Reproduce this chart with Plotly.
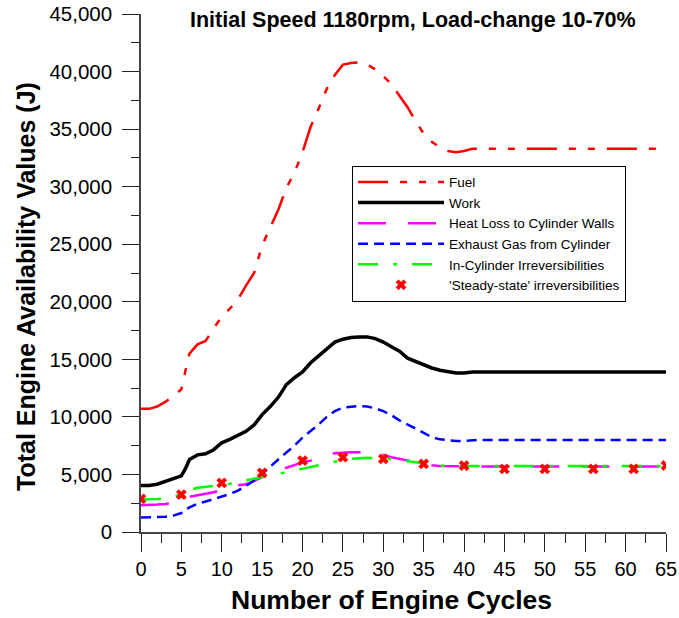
import plotly.graph_objects as go

# ---- data ----
fuel_x = [0, 1, 2, 3, 4, 5, 5.5, 6, 7, 8, 9, 10, 11, 12, 13, 14, 15, 16, 17, 18, 19, 20, 21, 22, 23, 24, 25,
          26, 27, 28, 29, 30, 31, 32, 33, 34, 35, 36, 37, 38, 39, 40, 41, 42, 50, 65]
fuel_y = [10700, 10700, 10900, 11300, 11800, 12400, 14000, 15500, 16300, 16600, 17700, 18700, 19400, 20200,
          21400, 22500, 24900, 26500, 28000, 29900, 31200, 33000, 35200, 36800, 38500, 39700, 40600, 40750,
          40800, 40600, 40200, 39600, 38900, 37900, 36900, 35700, 34600, 33900, 33400, 33100, 33000, 33100,
          33300, 33300, 33300, 33300]

work_x = [0, 1, 2, 3, 4, 5, 5.5, 6, 7, 8, 9, 10, 11, 12, 13, 14, 15, 16, 17, 18, 19, 20, 21, 22, 23, 24, 25,
          26, 27, 28, 29, 30, 31, 32, 33, 34, 35, 36, 37, 38, 39, 40, 41, 42, 50, 65]
work_y = [4050, 4050, 4150, 4400, 4650, 4880, 5500, 6300, 6700, 6800, 7150, 7750, 8050, 8400, 8750, 9300,
          10200, 10900, 11700, 12800, 13400, 13900, 14700, 15300, 15900, 16500, 16750, 16900, 16950, 16950,
          16800, 16500, 16100, 15700, 15100, 14800, 14500, 14250, 14050, 13900, 13820, 13820, 13900, 13900,
          13900, 13900]

heat_x = [0, 1, 2, 3, 4, 5, 6, 7, 8, 9, 10, 11, 12, 13, 14, 15, 16, 17, 18, 19, 20, 21, 22, 23, 24, 25, 26,
          27, 28, 29, 30, 31, 32, 33, 34, 35, 36, 37, 38, 39, 40, 50, 65]
heat_y = [2330, 2340, 2380, 2430, 2520, 2750, 3050, 3200, 3330, 3450, 3650, 3950, 4050, 4150, 4450, 4800,
          5100, 5350, 5600, 5850, 6050, 6200, 6450, 6650, 6850, 6900, 6920, 6920, 6900, 6800, 6700, 6500,
          6350, 6200, 6050, 5900, 5800, 5730, 5700, 5700, 5700, 5700, 5700]

exh_x = [0, 1, 2, 3, 4, 5, 6, 7, 8, 9, 10, 11, 12, 13, 14, 15, 16, 17, 18, 19, 20, 21, 22, 23, 24, 25, 26,
         27, 28, 29, 30, 31, 32, 33, 34, 35, 36, 37, 38, 39, 40, 41, 42, 50, 65]
exh_y = [1250, 1260, 1280, 1330, 1420, 1650, 2150, 2450, 2650, 2850, 3050, 3300, 3600, 4000, 4450, 5050,
         5700, 6300, 6900, 7500, 8200, 8750, 9350, 10000, 10500, 10800, 10900, 10950, 10900, 10750, 10500,
         10150, 9700, 9350, 9000, 8600, 8250, 8050, 7950, 7900, 7920, 7980, 8000, 8000, 8000]

incyl_x = [0, 1, 2, 3, 4, 5, 6, 7, 8, 9, 10, 11, 12, 13, 14, 15, 16, 17, 18, 19, 20, 21, 22, 23, 24, 25, 26,
           27, 28, 29, 30, 31, 32, 33, 34, 35, 36, 37, 38, 39, 40, 50, 65]
incyl_y = [2820, 2830, 2860, 2920, 3020, 3300, 3650, 3850, 3920, 3980, 4080, 4200, 4350, 4530, 4650, 4800,
           4920, 5050, 5200, 5400, 5560, 5700, 5840, 6000, 6130, 6250, 6350, 6400, 6440, 6430, 6400, 6350,
           6250, 6150, 6050, 5950, 5850, 5780, 5750, 5740, 5740, 5740, 5740]

ss_x = [0, 5, 10, 15, 20, 25, 30, 35, 40, 45, 50, 56, 61, 65]
ss_y = [2880, 3250, 4270, 5140, 6200, 6500, 6350, 5920, 5770, 5480, 5480, 5480, 5480, 5780]

x_ticks = list(range(0, 70, 5))
y_ticks = list(range(0, 50000, 5000))
y_ticktext = ["0" if v == 0 else f"{v:,}" for v in y_ticks]

FONT = "Arial, 'Liberation Sans', sans-serif"

fig = go.Figure()
fig.add_trace(go.Scatter(x=fuel_x, y=fuel_y, mode="lines", name="Fuel",
                         line=dict(color="#ff0000", width=2.5, dash="30px,12px,7px,12px,7px,12px")))
fig.add_trace(go.Scatter(x=work_x, y=work_y, mode="lines", name="Work",
                         line=dict(color="#000000", width=3.5)))
fig.add_trace(go.Scatter(x=heat_x, y=heat_y, mode="lines", name="Heat Loss to Cylinder Walls",
                         line=dict(color="#ff00ff", width=2.5, dash="28px,22px")))
fig.add_trace(go.Scatter(x=exh_x, y=exh_y, mode="lines", name="Exhaust Gas from Cylinder",
                         line=dict(color="#0000ff", width=2.5, dash="10px,6px")))
fig.add_trace(go.Scatter(x=incyl_x, y=incyl_y, mode="lines", name="In-Cylinder Irreversibilities",
                         line=dict(color="#00ff00", width=2.5, dash="20px,15px,4px,15px")))
fig.add_trace(go.Scatter(x=ss_x, y=ss_y, mode="markers", name="'Steady-state' irreversibilities",
                         marker=dict(symbol="x", size=9, color="#ff0000",
                                     line=dict(width=0.5, color="#ff0000"))))

fig.add_annotation(text="<b>Initial Speed 1180rpm, Load-change 10-70%</b>",
                   xref="paper", yref="paper", x=0.518, y=0.988, showarrow=False,
                   xanchor="center", yanchor="middle", font=dict(size=21.5, color="#000", family=FONT))
fig.add_annotation(text="<b>Number of Engine Cycles</b>",
                   xref="paper", yref="paper", x=0.478, y=-0.132, showarrow=False,
                   xanchor="center", yanchor="middle", font=dict(size=26.5, color="#000", family=FONT))
fig.add_annotation(text="<b>Total Engine Availability Values (J)</b>",
                   xref="paper", yref="paper", x=-0.219, y=0.473, showarrow=False, textangle=-90,
                   xanchor="center", yanchor="middle", font=dict(size=25, color="#000", family=FONT))

fig.update_layout(
    width=679, height=618,
    margin=dict(l=141, r=13, t=14, b=85.5, pad=0, autoexpand=False),
    paper_bgcolor="white", plot_bgcolor="white",
    font=dict(family=FONT, color="#000"),
    showlegend=True,
    legend=dict(x=0.402, y=0.707, xanchor="left", yanchor="top",
                bgcolor="white", bordercolor="#000", borderwidth=1,
                font=dict(size=13.5, family=FONT, color="#000"),
                itemwidth=86, tracegroupgap=0),
)
fig.update_xaxes(range=[0, 65], tickmode="array", tickvals=x_ticks, ticktext=[str(v) for v in x_ticks],
                 showgrid=False, zeroline=False, showline=True, linecolor="#444", linewidth=1.5,
                 ticks="outside", ticklen=18, tickwidth=1, tickcolor="#222", automargin=False,
                 tickfont=dict(size=20, family=FONT, color="#000"),
                 minor=dict(ticks="outside", ticklen=9, dtick=2.5, tick0=0, tickcolor="#222", tickwidth=1,
                            showgrid=False))
fig.update_yaxes(range=[0, 45000], tickmode="array", tickvals=y_ticks, ticktext=y_ticktext,
                 showgrid=False, zeroline=False, showline=True, linecolor="#444", linewidth=1.5,
                 ticks="outside", ticklen=17, tickwidth=1, tickcolor="#222", automargin=False,
                 tickfont=dict(size=20.5, family=FONT, color="#000"), ticklabelstandoff=6,
                 minor=dict(ticks="outside", ticklen=8, dtick=2500, tick0=0, tickcolor="#222", tickwidth=1,
                            showgrid=False))

fig.write_html("out.html", config={"displayModeBar": False},
               post_script="document.body.style.margin='0px';document.body.style.overflow='hidden';")
